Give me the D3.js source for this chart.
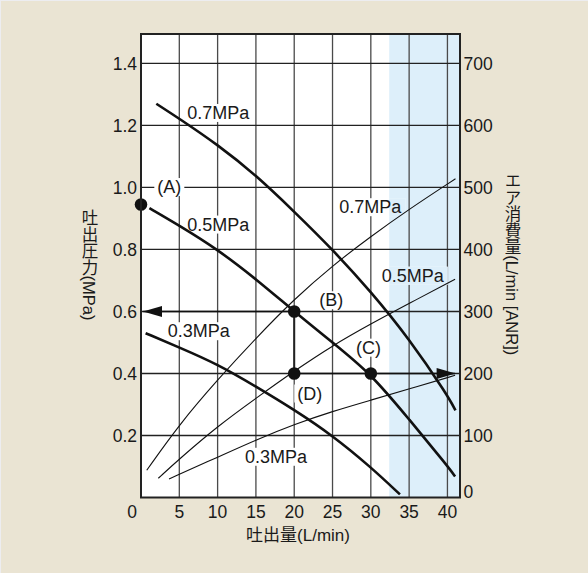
<!DOCTYPE html>
<html>
<head>
<meta charset="utf-8">
<script src="https://cdn.jsdelivr.net/npm/d3@7"></script>
<style>
    body { margin: 0; background: #eae4d3; }
    svg { display: block; }
    text { font-family: "Liberation Sans", Arial, "Noto Sans CJK JP", sans-serif; fill: #1a1a1a; }
</style>
</head>
<body>
<svg id="chart" width="588" height="573"></svg>
<script>
//  ticks
const xTicks = [0, 5, 10, 15, 20, 25, 30, 35, 40];
const pressureTicks = [0.2, 0.4, 0.6, 0.8, 1.0, 1.2, 1.4];
const airTicks = [0, 100, 200, 300, 400, 500, 600, 700];

//  discharge pressure (MPa) vs flow (L/min), one per supply pressure
const pressure07 = [[2, 1.27], [5, 1.222], [10, 1.138], [15, 1.04], [20, 0.922], [25, 0.8],
    [30, 0.664], [35, 0.512], [40, 0.33], [41.05, 0.281]];
const pressure05 = [[1.1, 0.933], [5, 0.877], [10, 0.8], [15, 0.705], [20, 0.6], [25, 0.5],
    [30, 0.4], [35, 0.252], [40, 0.102], [41, 0.068]];
const pressure03 = [[0.6, 0.53], [5, 0.484], [10, 0.43], [15, 0.358], [20, 0.283], [25, 0.2],
    [30, 0.098], [33.8, 0.01]];

//  air consumption (L/min ANR) vs flow
const air07 = [[0.75, 44], [5, 118], [10, 190], [15, 257], [20, 320], [25, 374], [30, 421],
    [35, 465], [41.05, 514]];
const air05 = [[2.26, 31], [5, 62], [10, 115], [15, 160], [20, 204], [25, 245], [30, 280],
    [35, 313], [41, 352]];
const air03 = [[3.66, 30], [10, 65], [15, 93], [20, 118], [25, 139], [30, 157], [35, 175],
    [41, 197]];

//  operating points (flow, pressure)
const operatingPoints = [[0, 0.945], [20, 0.6], [30, 0.4], [20, 0.4]];
const pointNames = ["(A)", "(B)", "(C)", "(D)"];
const pointNameAt = [[2.13, 0.982], [23.27, 0.617], [28.06, 0.464], [20.4, 0.316]];

const curveNames = ["0.7MPa", "0.5MPa", "0.3MPa", "0.7MPa", "0.5MPa", "0.3MPa"];
const curveNameAt = [[6.04, 1.221], [6.04, 0.861], [3.48, 0.517], [25.88, 0.917], [31.41, 0.696], [13.57, 0.112]];

const bandFrom = 32.4;      //  shaded flow range

const svg = d3.select("#chart");
const plotLeft = 141, plotRight = 460, plotTop = 34, plotBottom = 497.5;

const x = d3.scaleLinear().domain([0, 41.64]).range([plotLeft, plotRight]);
const y = d3.scaleLinear().domain([0, 1.495]).range([plotBottom, plotTop]);
const yAir = d3.scaleLinear().domain([0, 747.5]).range([plotBottom, plotTop]);

//  thin edge strips of the picture
svg.append("rect").attr("x", 0).attr("y", 0).attr("width", 588).attr("height", 1).attr("fill", "#ededf0");
svg.append("rect").attr("x", 0).attr("y", 0).attr("width", 1).attr("height", 573).attr("fill", "#ededf0");

//  plot background and shaded band
svg.append("rect").attr("x", plotLeft).attr("y", plotTop)
    .attr("width", plotRight - plotLeft).attr("height", plotBottom - plotTop).attr("fill", "white");
svg.append("rect").attr("x", x(bandFrom)).attr("y", plotTop)
    .attr("width", plotRight - x(bandFrom)).attr("height", plotBottom - plotTop).attr("fill", "#ddeffa");

//  grid
const grid = svg.append("g");
grid.selectAll(".vg").data(xTicks.filter(d => d > 0)).enter().append("line")
    .attr("x1", d => x(d)).attr("x2", d => x(d)).attr("y1", plotTop).attr("y2", plotBottom)
    .attr("stroke", "#4a4a4a").attr("stroke-width", 1.3);
grid.selectAll(".hg").data(pressureTicks).enter().append("line")
    .attr("x1", plotLeft).attr("x2", plotRight).attr("y1", d => y(d)).attr("y2", d => y(d))
    .attr("stroke", "#222").attr("stroke-width", 1.3);

const labelBg = svg.append("g");
const curves = svg.append("g");
const marks = svg.append("g");
const labels = svg.append("g");

//  frame
svg.append("rect").attr("x", plotLeft).attr("y", plotTop)
    .attr("width", plotRight - plotLeft).attr("height", plotBottom - plotTop)
    .attr("fill", "none").attr("stroke", "#222").attr("stroke-width", 2);

//  curves (read-off points are a little noisy, so a smoothing spline)
const pressureLine = d3.line().x(d => x(d[0])).y(d => y(d[1])).curve(d3.curveBasis);
const airLine = d3.line().x(d => x(d[0])).y(d => yAir(d[1])).curve(d3.curveBasis);

[pressure07, pressure05, pressure03].forEach(s => {
    curves.append("path").attr("d", pressureLine(s))
        .attr("fill", "none").attr("stroke", "#111").attr("stroke-width", 2.6);
});
[air07, air05, air03].forEach(s => {
    curves.append("path").attr("d", airLine(s))
        .attr("fill", "none").attr("stroke", "#111").attr("stroke-width", 1.1);
});

//  guide lines with arrows
const B = operatingPoints[1], D = operatingPoints[3];
marks.append("line").attr("x1", x(B[0])).attr("x2", x(0.3)).attr("y1", y(B[1])).attr("y2", y(B[1]))
    .attr("stroke", "#111").attr("stroke-width", 1.6);
marks.append("line").attr("x1", x(D[0])).attr("x2", x(41)).attr("y1", y(D[1])).attr("y2", y(D[1]))
    .attr("stroke", "#111").attr("stroke-width", 1.6);
marks.append("line").attr("x1", x(B[0])).attr("x2", x(D[0])).attr("y1", y(B[1])).attr("y2", y(D[1]))
    .attr("stroke", "#222").attr("stroke-width", 2);

function arrowHead(tipX, tipY, dir) {
    const len = 19, half = 5.5;
    return `M${tipX},${tipY}L${tipX - dir * len},${tipY - half}L${tipX - dir * len},${tipY + half}Z`;
}
marks.append("path").attr("d", arrowHead(x(0.26), y(B[1]), -1)).attr("fill", "#111");
marks.append("path").attr("d", arrowHead(x(41.07), y(D[1]), 1)).attr("fill", "#111");

marks.selectAll(".pt").data(operatingPoints).enter().append("circle")
    .attr("cx", d => x(d[0])).attr("cy", d => y(d[1])).attr("r", 6.3).attr("fill", "#111");

//  curve and point names, on a cleared background
const names = curveNames.map((t, i) => [t, curveNameAt[i]])
    .concat(pointNames.map((t, i) => [t, pointNameAt[i]]));
names.forEach(([t, at]) => {
    const tx = labels.append("text").attr("x", x(at[0])).attr("y", y(at[1]))
        .attr("font-size", 18).text(t);
    const bb = tx.node().getBBox();
    const x0 = bb.x - 3, x1 = bb.x + bb.width + 3, y0 = bb.y + 1, h = bb.height - 2;
    labelBg.append("rect").attr("x", x0).attr("y", y0).attr("width", x1 - x0).attr("height", h)
        .attr("fill", "white");
    const bx = x(bandFrom);
    if (x1 > bx) {
        labelBg.append("rect").attr("x", Math.max(x0, bx)).attr("y", y0)
            .attr("width", x1 - Math.max(x0, bx)).attr("height", h).attr("fill", "#ddeffa");
    }
});

//  tick labels
const axes = svg.append("g").attr("font-size", 17.5);
axes.selectAll(".yl").data(pressureTicks).enter().append("text")
    .attr("x", 137).attr("y", d => y(d)).attr("dy", "0.35em").attr("text-anchor", "end")
    .text(d3.format(".1f"));
axes.selectAll(".al").data(airTicks).enter().append("text")
    .attr("x", 463.5).attr("y", d => d === 0 ? yAir(d) - 6 : yAir(d)).attr("dy", "0.35em")
    .text(d => d);
axes.selectAll(".xl").data(xTicks).enter().append("text")
    .attr("x", d => d === 0 ? 132 : x(d)).attr("y", 518).attr("text-anchor", "middle")
    .text(d => d);

//  axis titles
svg.append("text").attr("x", 298).attr("y", 541).attr("text-anchor", "middle")
    .attr("font-size", 17).text("吐出量(L/min)");
svg.append("text").attr("x", 89).attr("y", 265).attr("text-anchor", "middle")
    .attr("font-size", 16.5).style("writing-mode", "vertical-rl").text("吐出圧力(MPa)");
svg.append("text").attr("x", 512).attr("y", 264).attr("text-anchor", "middle")
    .attr("font-size", 16.5).style("writing-mode", "vertical-rl").text("エア消費量(L/min [ANR])");
</script>
</body>
</html>
